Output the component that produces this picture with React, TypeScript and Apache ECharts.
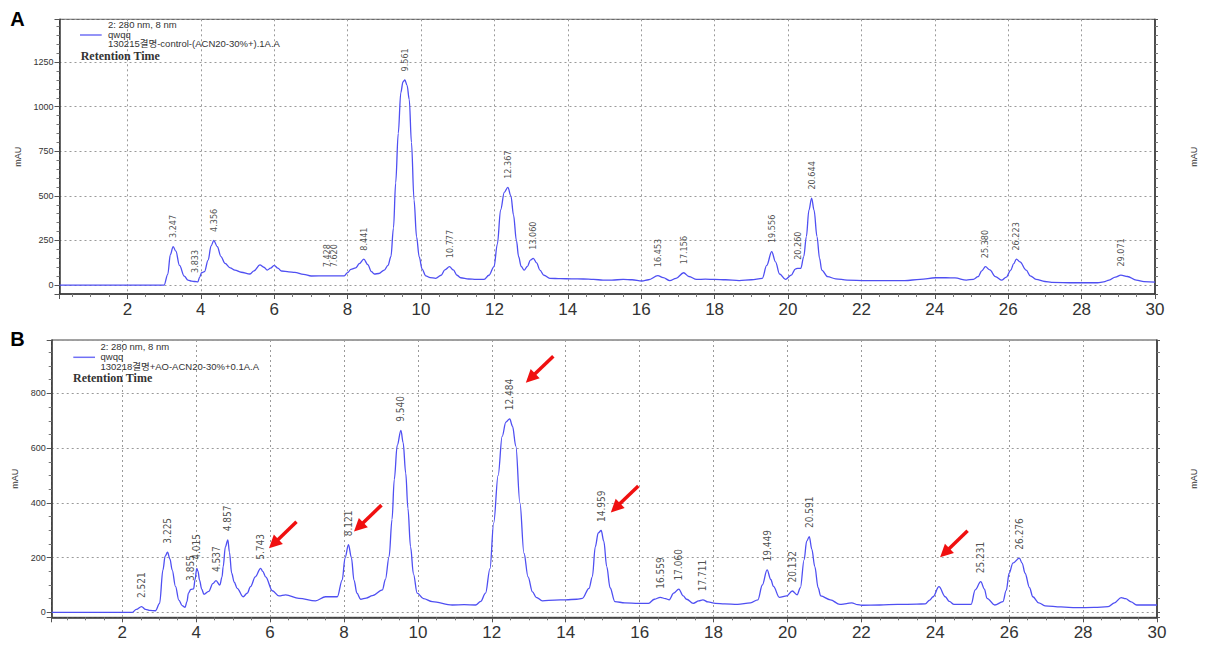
import React, { useEffect, useRef } from 'react';
import * as echarts from 'echarts';

// ---------- DATA ----------
const topTrace: [number, number][] = [
  [0.15, 0], [3.0, 0], [3.1, 60], [3.17, 170], [3.247, 216], [3.32, 190], [3.42, 110], [3.55, 50], [3.65, 28], [3.75, 22],
  [3.833, 20], [3.92, 18], [3.97, 45], [4.02, 69], [4.1, 75], [4.2, 140], [4.28, 220], [4.356, 250], [4.45, 215], [4.55, 160],
  [4.66, 122], [4.8, 97], [4.93, 84], [5.1, 72], [5.34, 62], [5.45, 80], [5.61, 113], [5.72, 100], [5.81, 84], [5.9, 95],
  [6.0, 111], [6.1, 95], [6.2, 79], [6.4, 74], [6.56, 71], [6.8, 60], [7.01, 51], [7.428, 52], [7.62, 52], [7.91, 52],
  [8.0, 70], [8.09, 88], [8.22, 96], [8.32, 120], [8.441, 145], [8.55, 115], [8.65, 75], [8.73, 62], [8.85, 65], [9.0, 84],
  [9.1, 110], [9.18, 159], [9.25, 320], [9.31, 573], [9.38, 850], [9.45, 1079], [9.51, 1140], [9.561, 1150], [9.62, 1120], [9.68, 1041],
  [9.74, 800], [9.81, 478], [9.88, 270], [9.95, 159], [10.03, 90], [10.13, 52], [10.25, 42], [10.4, 38], [10.55, 55], [10.65, 85],
  [10.777, 103], [10.88, 85], [10.98, 55], [11.08, 41], [11.3, 34], [11.5, 32], [11.72, 32], [11.85, 55], [11.99, 103], [12.08, 230],
  [12.17, 422], [12.27, 520], [12.367, 548], [12.45, 500], [12.52, 394], [12.6, 250], [12.66, 159], [12.73, 105], [12.81, 84], [12.9, 105],
  [12.98, 140], [13.06, 150], [13.15, 125], [13.24, 84], [13.35, 55], [13.51, 38], [13.8, 36], [14.1, 35], [14.42, 34], [14.7, 32],
  [14.96, 28], [15.2, 28], [15.51, 32], [15.75, 30], [16.02, 23], [16.2, 30], [16.453, 53], [16.6, 42], [16.78, 25], [16.95, 38],
  [17.156, 69], [17.3, 48], [17.51, 32], [17.75, 33], [18.0, 32], [18.3, 30], [18.67, 25], [19.0, 30], [19.3, 38], [19.42, 110],
  [19.556, 188], [19.66, 130], [19.77, 62], [19.93, 32], [20.09, 56], [20.2, 90], [20.26, 94], [20.35, 94], [20.43, 160], [20.5, 272],
  [20.57, 420], [20.644, 488], [20.71, 420], [20.79, 272], [20.86, 150], [20.92, 84], [21.08, 47], [21.3, 35], [21.61, 28], [22.13, 25],
  [22.6, 25], [23.18, 25], [23.6, 32], [24.02, 41], [24.3, 41], [24.55, 40], [24.86, 28], [25.05, 32], [25.18, 47], [25.28, 80],
  [25.38, 103], [25.5, 85], [25.65, 47], [25.83, 28], [25.95, 45], [26.07, 84], [26.15, 120], [26.223, 146], [26.32, 130], [26.49, 84],
  [26.6, 52], [26.76, 32], [27.0, 20], [27.18, 15], [27.8, 13], [28.44, 13], [28.6, 18], [28.75, 28], [28.92, 45], [29.071, 56],
  [29.25, 48], [29.49, 28], [29.7, 19], [30.0, 17],
];

const bottomTrace: [number, number][] = [
  [0.09, 0], [2.27, 0], [2.38, 11], [2.521, 21], [2.63, 11], [2.75, 7], [2.9, 6], [3.01, 33], [3.1, 155], [3.16, 205],
  [3.225, 220], [3.29, 195], [3.35, 155], [3.44, 95], [3.53, 45], [3.62, 25], [3.7, 18], [3.75, 40], [3.79, 70], [3.855, 84],
  [3.93, 86], [3.97, 120], [4.015, 161], [4.05, 150], [4.09, 118], [4.15, 85], [4.21, 66], [4.34, 77], [4.45, 105], [4.537, 116],
  [4.64, 100], [4.7, 130], [4.73, 167], [4.79, 240], [4.857, 265], [4.9, 220], [4.96, 143], [5.03, 110], [5.11, 88], [5.27, 57],
  [5.38, 70], [5.47, 94], [5.6, 130], [5.743, 161], [5.8, 150], [5.88, 130], [6.06, 79], [6.24, 60], [6.42, 64], [6.78, 51],
  [7.23, 42], [7.5, 57], [7.82, 57], [7.95, 118], [8.03, 200], [8.121, 247], [8.2, 200], [8.27, 118], [8.35, 70], [8.45, 48],
  [8.6, 52], [8.77, 61], [9.04, 82], [9.12, 120], [9.22, 204], [9.3, 340], [9.36, 485], [9.44, 610], [9.54, 665], [9.6, 620],
  [9.67, 509], [9.73, 380], [9.8, 240], [9.88, 140], [9.98, 70], [10.15, 50], [10.39, 39], [10.93, 27], [11.25, 28], [11.56, 27],
  [11.7, 40], [11.83, 70], [11.95, 160], [12.05, 326], [12.17, 500], [12.28, 643], [12.38, 695], [12.484, 707], [12.56, 680], [12.65, 607],
  [12.76, 400], [12.87, 216], [12.98, 130], [13.1, 75], [13.2, 55], [13.37, 42], [13.7, 45], [14.0, 46], [14.3, 48], [14.45, 51],
  [14.63, 88], [14.72, 130], [14.8, 240], [14.88, 290], [14.959, 299], [15.03, 260], [15.11, 167], [15.2, 90], [15.33, 39], [15.6, 35],
  [15.97, 33], [16.24, 33], [16.4, 48], [16.559, 55], [16.7, 50], [16.8, 46], [16.92, 70], [17.06, 85], [17.18, 60], [17.27, 48],
  [17.45, 33], [17.6, 42], [17.711, 46], [17.85, 38], [18.05, 33], [18.3, 31], [18.65, 29], [19.0, 35], [19.2, 46], [19.32, 100],
  [19.449, 155], [19.55, 120], [19.62, 95], [19.78, 55], [19.98, 60], [20.132, 78], [20.26, 64], [20.35, 90], [20.45, 192], [20.52, 260],
  [20.591, 277], [20.66, 230], [20.74, 167], [20.83, 90], [20.9, 60], [21.16, 46], [21.42, 29], [21.6, 32], [21.74, 35], [21.9, 28],
  [22.01, 26], [22.5, 27], [22.98, 29], [23.5, 30], [23.73, 31], [23.85, 45], [23.94, 57], [24.1, 94], [24.27, 57], [24.38, 40],
  [24.51, 29], [24.97, 29], [25.08, 82], [25.231, 112], [25.33, 85], [25.4, 51], [25.61, 27], [25.83, 39], [25.92, 80], [26.0, 143],
  [26.1, 180], [26.276, 198], [26.35, 180], [26.43, 143], [26.55, 90], [26.64, 57], [26.8, 35], [26.97, 24], [27.4, 20], [27.82, 17],
  [28.3, 18], [28.68, 21], [28.85, 35], [29.03, 54], [29.15, 50], [29.3, 38], [29.45, 27], [29.7, 27], [30.0, 27],
];

const topPeakTimes = [3.247, 3.833, 4.356, 7.428, 7.62, 8.441, 9.561, 10.777, 12.367, 13.06, 16.453, 17.156, 19.556, 20.26, 20.644, 25.38, 26.223, 29.071];
const topPeakHeights = [216, 20, 250, 52, 52, 145, 1150, 103, 548, 150, 53, 69, 188, 94, 488, 103, 146, 56];

const bottomPeakTimes = [2.521, 3.225, 3.855, 4.015, 4.537, 4.857, 5.743, 8.121, 9.54, 12.484, 14.959, 16.559, 17.06, 17.711, 19.449, 20.132, 20.591, 25.231, 26.276];
const bottomPeakHeights = [21, 220, 84, 161, 116, 265, 161, 247, 665, 707, 299, 55, 85, 46, 155, 78, 277, 112, 198];

// arrow heads (data coordinates of panel B)
const arrowHeads: [number, number][] = [[5.97, 234], [8.27, 295], [12.92, 839], [15.22, 365], [24.13, 201]];

const topLegendLines = ['2: 280 nm, 8 nm', 'qwqq', '130215결명-control-(ACN20-30%+).1A.A'];
const bottomLegendLines = ['2: 280 nm, 8 nm', 'qwqq', '130218결명+AO-ACN20-30%+0.1A.A'];
const axisTitle = 'mAU';
const legendCaption = 'Retention Time';

// ---------- STYLE ----------
const LINE_COLOR = '#4f4ff2';
const SANS = 'Arial, "Liberation Sans", "Noto Sans CJK KR", sans-serif';
const NARROW = '"Liberation Sans Narrow", "Arial Narrow", "DejaVu Sans Condensed", sans-serif';

const xAxisCfg = (gridIndex: number, min: number) => ({
  type: 'value',
  gridIndex,
  min,
  max: 30,
  splitNumber: 15,
  minInterval: 2,
  maxInterval: 2,
  axisLine: { show: true, onZero: false, lineStyle: { color: '#333', width: 1.5 } },
  axisTick: { show: true, length: 5, lineStyle: { color: '#555' } },
  minorTick: { show: true, splitNumber: 4, length: 3, lineStyle: { color: '#777' } },
  axisLabel: {
    fontSize: 17,
    color: '#333',
    margin: 7,
    fontFamily: SANS,
    formatter: (v: number) => (Math.abs(v - Math.round(v)) < 1e-6 && Math.round(v) % 2 === 0 && v > 0.5 ? String(Math.round(v)) : ''),
  },
  splitLine: { show: true, lineStyle: { color: '#9a9a9a', type: [2, 3], width: 1 } },
});

const yAxisCfg = (gridIndex: number, min: number, max: number, step: number, minorSplit: number, nameGap: number) => ({
  type: 'value',
  gridIndex,
  min,
  max,
  minInterval: step,
  maxInterval: step,
  name: axisTitle,
  nameLocation: 'middle',
  nameRotate: 90,
  nameGap,
  nameTextStyle: { fontSize: 9, color: '#333', fontFamily: SANS },
  axisLine: { show: true, onZero: false, lineStyle: { color: '#333', width: 1.5 } },
  axisTick: { show: true, length: 5, lineStyle: { color: '#555' } },
  minorTick: { show: true, splitNumber: minorSplit, length: 3, lineStyle: { color: '#777' } },
  axisLabel: {
    fontSize: 9,
    color: '#333',
    margin: 6,
    fontFamily: SANS,
    formatter: (v: number) => (v >= 0 && Math.abs(v / step - Math.round(v / step)) < 1e-6 ? String(Math.round(v)) : ''),
  },
  splitLine: { show: true, lineStyle: { color: '#9a9a9a', type: [2, 3], width: 1 } },
});

const rightAxisCfg = (gridIndex: number, min: number, max: number, step: number, minorSplit: number, nameGap: number) => ({
  type: 'value',
  gridIndex,
  position: 'right',
  min,
  max,
  minInterval: step,
  maxInterval: step,
  name: axisTitle,
  nameLocation: 'middle',
  nameRotate: 90,
  nameGap,
  nameTextStyle: { fontSize: 9, color: '#333', fontFamily: SANS },
  axisLine: { show: true, onZero: false, lineStyle: { color: '#333', width: 1.5 } },
  axisTick: { show: true, length: 3, lineStyle: { color: '#555' } },
  minorTick: { show: true, splitNumber: minorSplit, length: 3, lineStyle: { color: '#777' } },
  axisLabel: { show: false },
  splitLine: { show: false },
});

const peakLabelSeries = (xi: number, yi: number, times: number[], heights: number[], fontSize: number) => ({
  type: 'scatter',
  xAxisIndex: xi,
  yAxisIndex: yi,
  data: times.map((t, i) => [t, heights[i]]),
  symbolSize: 1,
  itemStyle: { color: 'rgba(0,0,0,0)' },
  silent: true,
  z: 5,
  label: {
    show: true,
    position: 'top',
    distance: 8,
    rotate: 90,
    align: 'left',
    verticalAlign: 'middle',
    fontSize,
    color: '#222',
    fontFamily: NARROW,
    formatter: (p: any) => Number(p.value[0]).toFixed(3),
  },
});

const legendGraphics = (lineX0: number, lineX1: number, lineY: number, textX: number, textYs: number[], lines: string[], capX: number, capY: number) => [
  { type: 'line', shape: { x1: lineX0, y1: lineY, x2: lineX1, y2: lineY }, style: { stroke: '#7070f5', lineWidth: 1.5 }, z: 10 },
  ...lines.map((s, i) => ({
    type: 'text', x: textX, y: textYs[i], z: 10,
    style: { text: s, fontSize: 9.5, fill: '#333', fontFamily: SANS, verticalAlign: 'middle', align: 'left' },
  })),
  {
    type: 'text', x: capX, y: capY, z: 10,
    style: { text: legendCaption, fontSize: 12, fontWeight: 'bold', fill: '#333', fontFamily: '"Liberation Serif", "Times New Roman", serif', verticalAlign: 'middle', align: 'left' },
  },
];

export default function App() {
  const ref = useRef<HTMLDivElement>(null);

  useEffect(() => {
    if (!ref.current) return;
    const chart = echarts.init(ref.current, undefined, { renderer: 'svg' });

    const staticGraphics: any[] = [
      { type: 'text', x: 17.5, y: 18.5, style: { text: 'A', fontSize: 20, fontWeight: 'bold', fill: '#000', fontFamily: SANS, align: 'center', verticalAlign: 'middle' } },
      { type: 'text', x: 17.5, y: 339, style: { text: 'B', fontSize: 20, fontWeight: 'bold', fill: '#000', fontFamily: SANS, align: 'center', verticalAlign: 'middle' } },
      ...legendGraphics(80, 101.7, 35, 108, [24.5, 34, 43.3], topLegendLines, 80.7, 55.7),
      ...legendGraphics(73.3, 95, 357.3, 100.5, [346.8, 356.5, 366.2], bottomLegendLines, 73, 377.7),
    ];

    const option: any = {
      animation: false,
      backgroundColor: '#fff',
      grid: [
        { left: 59.5, top: 19.3, width: 1101.5, height: 274.7, show: true, borderColor: '#444', borderWidth: 1, containLabel: false },
        { left: 51.7, top: 340, width: 1105.3, height: 277.3, show: true, borderColor: '#444', borderWidth: 1, containLabel: false },
      ],
      xAxis: [xAxisCfg(0, 0.15), xAxisCfg(1, 0.09)],
      yAxis: [
        yAxisCfg(0, -50, 1490, 250, 5, 29),
        rightAxisCfg(0, -50, 1490, 250, 5, 34),
        yAxisCfg(1, -18, 995, 200, 4, 27),
        rightAxisCfg(1, -18, 995, 200, 4, 32),
      ],
      series: [
        {
          type: 'line', xAxisIndex: 0, yAxisIndex: 0, data: topTrace, showSymbol: false, smooth: 0.35, smoothMonotone: 'x',
          lineStyle: { color: LINE_COLOR, width: 1.3 }, itemStyle: { color: LINE_COLOR }, z: 3,
        },
        peakLabelSeries(0, 0, topPeakTimes, topPeakHeights, 9),
        {
          type: 'line', xAxisIndex: 1, yAxisIndex: 2, data: bottomTrace, showSymbol: false, smooth: 0.35, smoothMonotone: 'x',
          lineStyle: { color: LINE_COLOR, width: 1.3 }, itemStyle: { color: LINE_COLOR }, z: 3,
        },
        peakLabelSeries(1, 2, bottomPeakTimes, bottomPeakHeights, 10),
      ],
      graphic: staticGraphics,
    };
    chart.setOption(option);

    // red arrows anchored to panel B data coordinates
    const arrows: any[] = [];
    arrowHeads.forEach((h) => {
      const p = chart.convertToPixel({ seriesIndex: 2 }, h) as number[];
      if (!p) return;
      const hx = p[0];
      const hy = p[1];
      const tx = hx + 27.5;
      const ty = hy - 26.5;
      const dx = hx - tx;
      const dy = hy - ty;
      const len = Math.sqrt(dx * dx + dy * dy);
      const ux = dx / len;
      const uy = dy / len;
      const px = -uy;
      const py = ux;
      const headLen = 13;
      const headW = 6.5;
      const bx = hx - ux * headLen;
      const by = hy - uy * headLen;
      arrows.push({
        type: 'line', z: 20,
        shape: { x1: tx, y1: ty, x2: bx + ux * 2, y2: by + uy * 2 },
        style: { stroke: '#f01010', lineWidth: 3.5 },
      });
      arrows.push({
        type: 'polygon', z: 20,
        shape: { points: [[hx, hy], [bx + px * headW, by + py * headW], [bx - px * headW, by - py * headW]] },
        style: { fill: '#f01010' },
      });
    });
    chart.setOption({ graphic: [...staticGraphics, ...arrows] });

    return () => {
      chart.dispose();
    };
  }, []);

  return (
    <div
      ref={ref}
      style={{ position: 'absolute', left: 0, top: 0, width: 1206, height: 649, background: '#fff' }}
    />
  );
}
